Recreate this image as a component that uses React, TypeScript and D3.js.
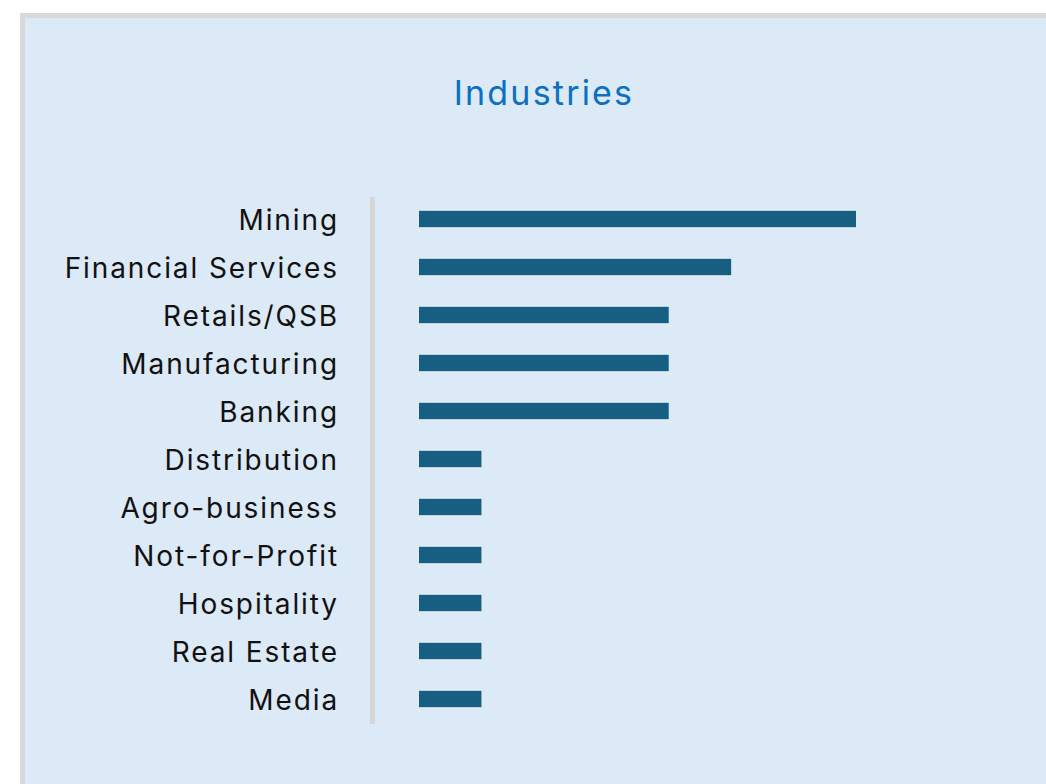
import React from "react";
import * as d3 from "d3";

const categories = [
  "Mining",
  "Financial Services",
  "Retails/QSB",
  "Manufacturing",
  "Banking",
  "Distribution",
  "Agro-business",
  "Not-for-Profit",
  "Hospitality",
  "Real Estate",
  "Media",
];
const values = [7, 5, 4, 4, 4, 1, 1, 1, 1, 1, 1];

const W = 1046;
const H = 784;

export default function App() {
  const x = d3.scaleLinear().domain([0, 7]).range([419, 856]);
  const y = d3
    .scaleBand<string>()
    .domain(categories)
    .range([195, 723])
    .paddingInner(0.66)
    .paddingOuter(0.33);
  const font = "Inter, 'Open Sans', sans-serif";
  return (
    <svg
      width={W}
      height={H}
      style={{ position: "absolute", left: 0, top: 0, display: "block" }}
    >
      <rect x={0} y={0} width={W} height={H} fill="#ffffff" />
      <rect x={20} y={13} width={W - 20} height={H - 13} fill="#d9d9d9" />
      <rect x={25} y={18} width={W - 25} height={H - 18} fill="#dce9f6" />
      <text
        x={544}
        y={105}
        textAnchor="middle"
        fill="#0b70c2"
        fontFamily={font}
        fontSize={34}
        letterSpacing={2.2}
      >
        Industries
      </text>
      <rect x={370} y={197} width={5} height={527} fill="#d6d6d6" />
      {categories.map((c, i) => {
        const yy = y(c)!;
        const cy = yy + y.bandwidth() / 2;
        return (
          <g key={c}>
            <rect
              x={x(0)}
              y={yy}
              width={x(values[i]) - x(0)}
              height={y.bandwidth()}
              fill="#165f81"
            />
            <text
              x={339}
              y={cy}
              dy="0.4em"
              textAnchor="end"
              fill="#111"
              fontFamily={font}
              fontSize={28}
              letterSpacing={1.9}
            >
              {c}
            </text>
          </g>
        );
      })}
    </svg>
  );
}
